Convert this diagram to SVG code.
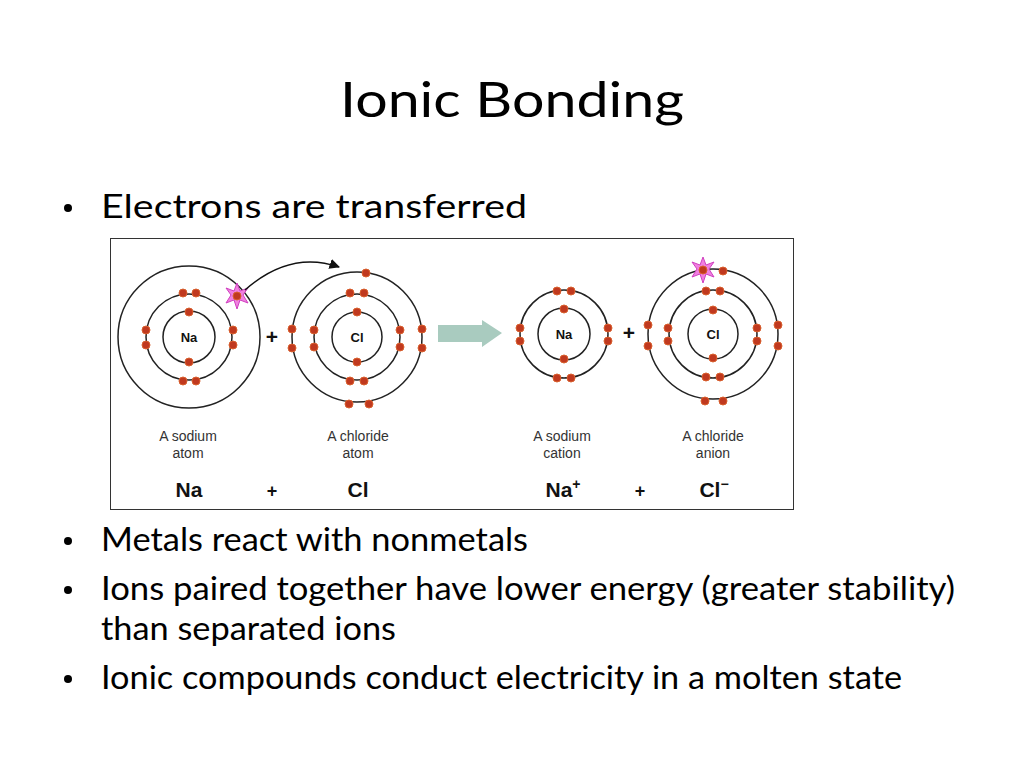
<svg xmlns="http://www.w3.org/2000/svg" width="1024" height="768" viewBox="0 0 1024 768">
<style>
.t{font-family:Lato,"Open Sans","Liberation Sans",sans-serif;fill:#000}
.orb{fill:none;stroke:#222;stroke-width:1.5}
.e{fill:#c0391f;stroke:#d9602e;stroke-width:1}
.lab{font-family:"Liberation Sans",Arial,sans-serif;font-size:14px;fill:#333;text-anchor:middle}
.sym{font-family:"Liberation Sans",Arial,sans-serif;font-size:21px;font-weight:bold;fill:#111;text-anchor:middle}
.in{font-family:"Liberation Sans",Arial,sans-serif;font-size:13px;font-weight:bold;fill:#111;text-anchor:middle}
.star{fill:#f080e0;stroke:#d040c0;stroke-width:1}
</style>
<defs>
<marker id="ah" viewBox="0 0 10 10" refX="9" refY="5" markerWidth="7" markerHeight="7" orient="auto"><path d="M0,0 L10,5 L0,10 z" fill="#111"/></marker>
<polygon id="st" points="0,-13 3,-5 11,-8 6,-1 11,7 3,4 0,13 -3,4 -11,7 -6,-1 -11,-8 -3,-5" class="star"/>
</defs>
<rect width="1024" height="768" fill="#fff"/>
<text class="t" x="512" y="117" font-size="48" text-anchor="middle" textLength="344" lengthAdjust="spacingAndGlyphs">Ionic Bonding</text>
<g class="t" font-size="32">
<circle cx="68" cy="208" r="4"/>
<text x="101" y="218" textLength="426" lengthAdjust="spacingAndGlyphs">Electrons are transferred</text>
<circle cx="68" cy="541" r="4"/>
<text x="101" y="551" textLength="427" lengthAdjust="spacingAndGlyphs">Metals react with nonmetals</text>
<circle cx="68" cy="590" r="4"/>
<text x="101" y="600" textLength="854" lengthAdjust="spacingAndGlyphs">Ions paired together have lower energy (greater stability)</text>
<text x="101" y="640" textLength="295" lengthAdjust="spacingAndGlyphs">than separated ions</text>
<circle cx="68" cy="679" r="4"/>
<text x="101" y="689" textLength="801" lengthAdjust="spacingAndGlyphs">Ionic compounds conduct electricity in a molten state</text>
</g>
<rect x="110.5" y="238.5" width="683" height="271" fill="#fff" stroke="#333" stroke-width="1"/>
<g id="na-atom">
<circle class="orb" cx="189" cy="337" r="26"/><circle class="orb" cx="189" cy="337" r="43"/><circle class="orb" cx="189" cy="337" r="71"/>
<text class="in" x="189" y="342">Na</text>
<g class="e"><circle cx="189" cy="312" r="4"/><circle cx="189" cy="362" r="4"/>
<circle cx="183" cy="293" r="4"/><circle cx="196" cy="293" r="4"/><circle cx="183" cy="381" r="4"/><circle cx="196" cy="381" r="4"/>
<circle cx="146" cy="330" r="4"/><circle cx="146" cy="345" r="4"/><circle cx="233" cy="330" r="4"/><circle cx="233" cy="345" r="4"/></g>
<use href="#st" x="237" y="296"/><circle class="e" cx="237" cy="296" r="4"/>
</g>
<g id="cl-atom">
<circle class="orb" cx="357" cy="337" r="25"/><circle class="orb" cx="357" cy="337" r="43"/><circle class="orb" cx="357" cy="337" r="65"/>
<text class="in" x="357" y="342">Cl</text>
<g class="e"><circle cx="357" cy="312" r="4"/><circle cx="357" cy="362" r="4"/>
<circle cx="350" cy="293" r="4"/><circle cx="364" cy="293" r="4"/><circle cx="350" cy="381" r="4"/><circle cx="364" cy="381" r="4"/>
<circle cx="314" cy="330" r="4"/><circle cx="314" cy="347" r="4"/><circle cx="400" cy="330" r="4"/><circle cx="400" cy="347" r="4"/>
<circle cx="366" cy="273" r="4"/><circle cx="292" cy="329" r="4"/><circle cx="292" cy="348" r="4"/><circle cx="422" cy="329" r="4"/><circle cx="422" cy="348" r="4"/><circle cx="349" cy="404" r="4"/><circle cx="369" cy="404" r="4"/></g>
</g>
<g id="na-cation">
<circle class="orb" cx="564" cy="334" r="26"/><circle class="orb" cx="564" cy="334" r="44"/>
<text class="in" x="564" y="339">Na</text>
<g class="e"><circle cx="564" cy="309" r="4"/><circle cx="564" cy="359" r="4"/>
<circle cx="557" cy="291" r="4"/><circle cx="571" cy="291" r="4"/><circle cx="557" cy="378" r="4"/><circle cx="571" cy="378" r="4"/>
<circle cx="520" cy="328" r="4"/><circle cx="520" cy="341" r="4"/><circle cx="608" cy="328" r="4"/><circle cx="608" cy="341" r="4"/></g>
</g>
<g id="cl-anion">
<circle class="orb" cx="713" cy="334" r="25"/><circle class="orb" cx="713" cy="334" r="44"/><circle class="orb" cx="713" cy="334" r="65"/>
<text class="in" x="713" y="339">Cl</text>
<g class="e"><circle cx="713" cy="310" r="4"/><circle cx="713" cy="358" r="4"/>
<circle cx="706" cy="291" r="4"/><circle cx="720" cy="291" r="4"/><circle cx="706" cy="377" r="4"/><circle cx="720" cy="377" r="4"/>
<circle cx="668" cy="328" r="4"/><circle cx="668" cy="341" r="4"/><circle cx="757" cy="328" r="4"/><circle cx="757" cy="341" r="4"/>
<circle cx="723" cy="271" r="4"/><circle cx="648" cy="325" r="4"/><circle cx="648" cy="346" r="4"/><circle cx="778" cy="325" r="4"/><circle cx="778" cy="346" r="4"/><circle cx="705" cy="401" r="4"/><circle cx="723" cy="401" r="4"/></g>
<use href="#st" x="703" y="270"/><circle class="e" cx="703" cy="270" r="4"/>
</g>
<g id="connectors">
<path d="M245,290 Q290,250 339,267" fill="none" stroke="#111" stroke-width="1.5" marker-end="url(#ah)"/>
<polygon points="438,325 482,325 482,320 502,333 482,347 482,342 438,342" fill="#a9cbbf"/>
</g>
<g class="sym" font-size="20"><text x="272" y="344">+</text><text x="629" y="340">+</text></g>
<g class="lab">
<text x="188" y="441">A sodium</text><text x="188" y="458">atom</text>
<text x="358" y="441">A chloride</text><text x="358" y="458">atom</text>
<text x="562" y="441">A sodium</text><text x="562" y="458">cation</text>
<text x="713" y="441">A chloride</text><text x="713" y="458">anion</text>
</g>
<g class="sym">
<text x="189" y="497">Na</text><text x="272" y="497" font-size="18">+</text><text x="358" y="497">Cl</text>
<text x="563" y="497">Na<tspan font-size="14" dy="-8">+</tspan></text><text x="640" y="497" font-size="18">+</text><text x="714" y="497">Cl<tspan font-size="14" dy="-8">−</tspan></text>
</g>
</svg>
